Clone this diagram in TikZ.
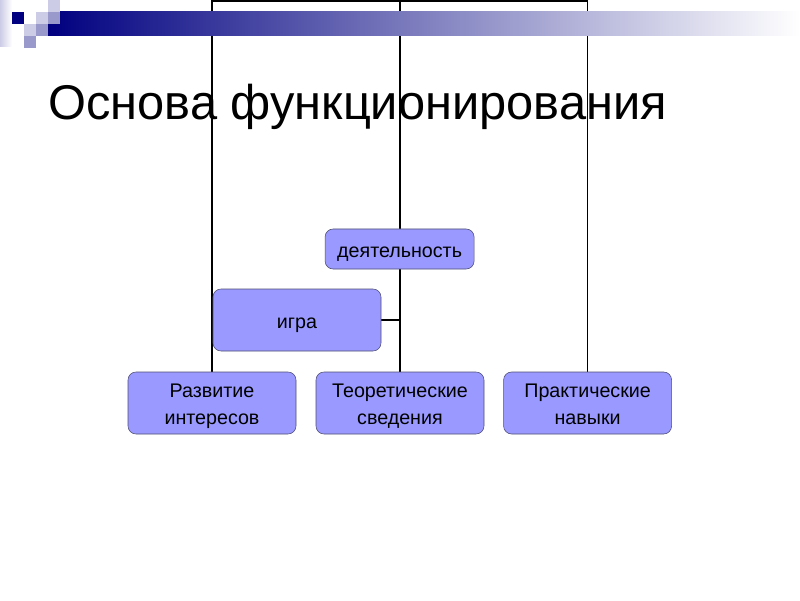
\documentclass[tikz,border=0pt]{standalone}
\usepackage{fontspec}
\setmainfont{Liberation Sans}
\pgfdeclarelayer{edgelayer}
\pgfdeclarelayer{nodelayer}
\pgfsetlayers{edgelayer,nodelayer,main}
\definecolor{hexcolor0x000080}{rgb}{0.000,0.000,0.502}
\definecolor{hexcolor0x9999ff}{rgb}{0.600,0.600,1.000}
\definecolor{hexcolor0xcccce6}{rgb}{0.800,0.800,0.902}
\definecolor{hexcolor0x9999cc}{rgb}{0.600,0.600,0.800}
\definecolor{hexcolor0x4d4d73}{rgb}{0.302,0.302,0.451}
\definecolor{myblack}{rgb}{0.000,0.000,0.000}
\definecolor{mywhite}{rgb}{1.000,1.000,1.000}
\newcommand{\tallstrut}{\rule{0pt}{17.5pt}}
\tikzstyle{box}=[rectangle,rounded corners=0.2cm,fill=hexcolor0x9999ff,draw=hexcolor0x4d4d73,minimum width=4.2cm,minimum height=1.55cm,inner ysep=0pt,align=center,text=myblack,font=\fontsize{14}{19.2}\selectfont]
\tikzstyle{title}=[anchor=base west,inner sep=0pt,text=myblack,font=\fontsize{34.7}{40}\selectfont]
\tikzstyle{line}=[draw=myblack,line width=1pt]

\begin{document}
\begin{tikzpicture}
	\useasboundingbox (0,0) rectangle (20,15);
	% header bar
	\shade [left color=hexcolor0x000080,right color=mywhite] (1.2,14.1) rectangle (20,14.7);
	\shade [left color=hexcolor0xcccce6,right color=mywhite] (0,13.825) rectangle (0.3,15);
	\fill [hexcolor0x000080] (0.3,14.4) rectangle (0.6,14.7);
	\fill [hexcolor0xcccce6] (0.9,14.4) rectangle (1.2,14.7);
	\fill [hexcolor0x9999cc] (1.2,14.4) rectangle (1.5,14.7);
	\fill [hexcolor0xcccce6] (1.2,14.7) rectangle (1.5,15);
	\fill [hexcolor0xcccce6] (0.6,14.1) rectangle (0.9,14.4);
	\fill [hexcolor0x9999cc] (0.9,14.1) rectangle (1.2,14.4);
	\fill [hexcolor0x9999cc] (0.6,13.8) rectangle (0.9,14.1);
	\begin{pgfonlayer}{nodelayer}
		\node [style=box,minimum width=3.725cm,minimum height=1cm] (0) at (9.99, 8.775) {\tallstrut деятельность\strut};
		\node [style=box] (1) at (7.425, 7) {\tallstrut игра\strut};
		\node [style=box] (2) at (5.3, 4.925) {\tallstrut Развитие\\интересов\strut};
		\node [style=box] (3) at (10, 4.925) {\tallstrut Теоретические\\сведения\strut};
		\node [style=box] (4) at (14.69, 4.925) {\tallstrut Практические\\навыки\strut};
		\coordinate (6) at (10, 14.975);
	\end{pgfonlayer}
	\node [style=title] (5) at (1.2, 12.0) {Основа функционирования};
	\begin{pgfonlayer}{edgelayer}
		\draw [style=line] (2.north) |- (6) -| (4.north);
		\draw [style=line] (3.north) -- (6);
		\draw [style=line] (1.east) -- (1.east -| 3.north);
	\end{pgfonlayer}
\end{tikzpicture}
\end{document}
